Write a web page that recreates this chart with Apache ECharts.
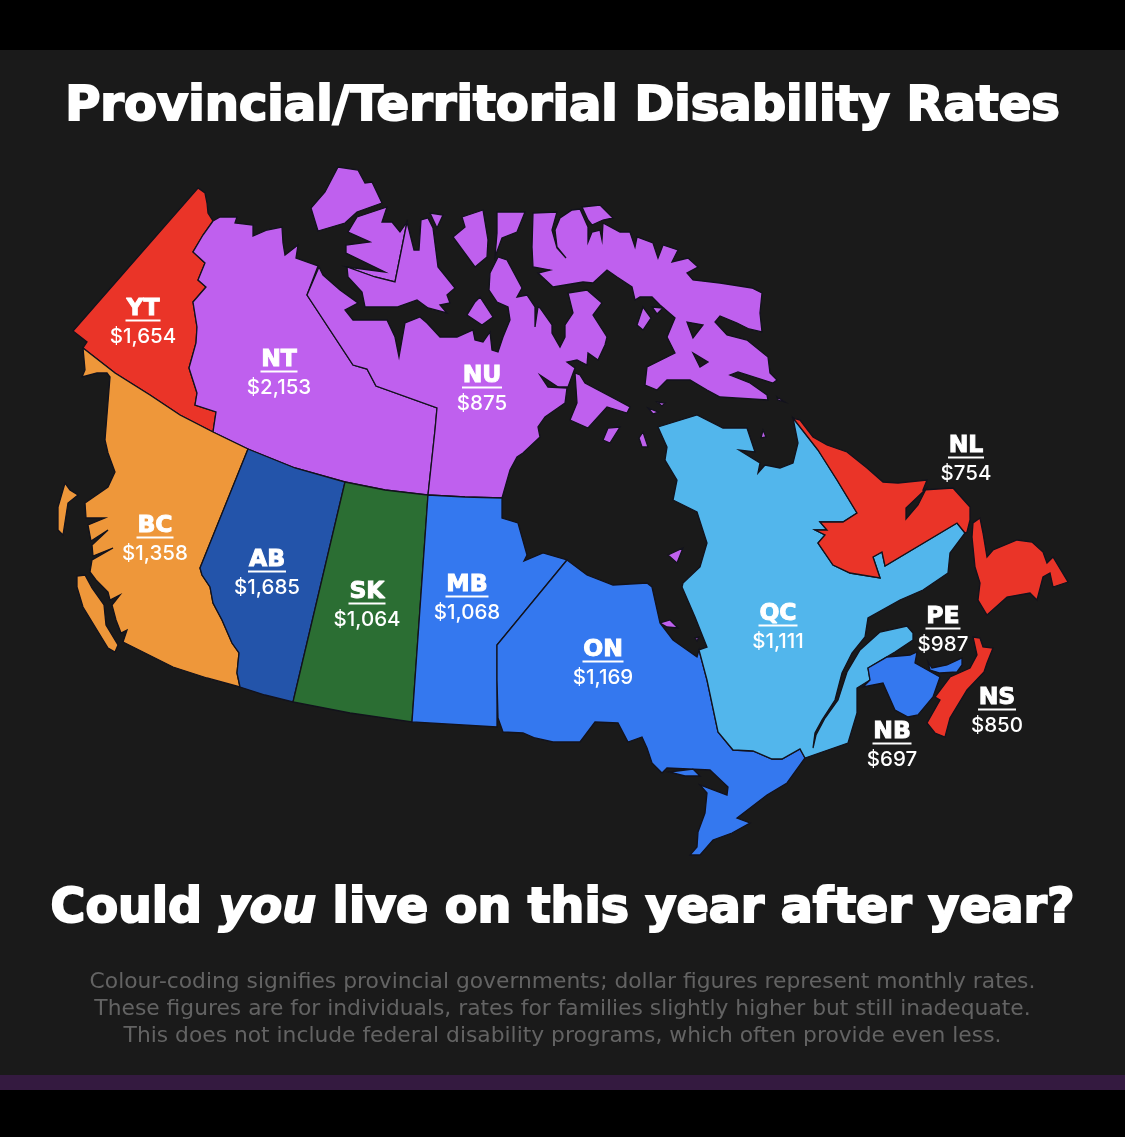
<!DOCTYPE html>
<html>
<head>
<meta charset="utf-8">
<style>html,body{margin:0;padding:0;background:#1a1a1a}#chart{width:1125px;height:1137px}</style>
<script src="https://cdn.jsdelivr.net/npm/echarts@6/dist/echarts.min.js"></script>
</head>
<body>
<div id="chart"></div>
<script>
var provinces = ['YT', 'NT', 'NU', 'BC', 'AB', 'SK', 'MB', 'ON', 'QC', 'NL', 'PE', 'NS', 'NB'];
var rates = [1654, 2153, 875, 1358, 1685, 1064, 1068, 1169, 1111, 754, 987, 850, 697];
var fills = ['#ea3428', '#bf60ee', '#bf60ee', '#ee973a', '#2354aa', '#2b6e33', '#3478ef', '#3478ef', '#52b6ec', '#ea3428', '#3478ef', '#ea3428', '#3478ef'];
var footnotes = [
  'Colour-coding signifies provincial governments; dollar figures represent monthly rates.',
  'These figures are for individuals, rates for families slightly higher but still inadequate.',
  'This does not include federal disability programs, which often provide even less.'
];

// label anchors, picture coordinates
var labelAt = {
  YT: [143, 325], NT: [279, 376], NU: [482, 392], BC: [155, 542], AB: [267, 576], SK: [367, 608], MB: [467, 601],
  ON: [603, 666], QC: [778, 630], NL: [966, 462], PE: [943, 633], NS: [997, 714], NB: [892, 748]
};

// outlines: each province is a list of polygons, a polygon is a list of rings
var outlines = {
  YT: [[[[198,188],[205,193],[207,203],[208,213],[213,221],[203,235],[193,252],[205,263],[198,280],[206,287],[193,302],[197,327],[196,343],[189,368],[197,393],[195,405],[216,412],[213,432],[180,415],[150,395],[115,373],[83,348],[87,342],[73,331]]]],
  NT: [
    [[[213,221],[220,217],[237,217],[235,223],[253,225],[253,236],[267,230],[282,227],[283,243],[285,255],[298,245],[296,258],[318,266],[319,267],[307,295],[353,365],[367,369],[376,386],[437,408],[435,430],[428,495],[385,490],[345,482],[295,468],[248,449],[213,432],[216,412],[195,405],[197,393],[189,368],[196,343],[197,327],[193,302],[206,287],[198,280],[205,263],[193,252],[203,235]]],
    [[[338,167],[358,170],[365,183],[372,182],[382,203],[357,212],[345,223],[318,231],[311,208],[325,192]]],
    [[[357,217],[387,207],[382,222],[392,222],[400,232],[407,222],[395,282],[375,277],[347,267],[385,272],[346,253],[346,245],[370,242],[348,232]]]
  ],
  NU: [
    [[[319,267],[323,275],[340,290],[358,303],[345,310],[353,320],[373,320],[387,320],[395,337],[399,357],[402,340],[405,323],[420,317],[427,323],[440,337],[457,337],[473,330],[475,340],[483,342],[490,332],[492,350],[498,352],[503,337],[510,320],[508,307],[497,302],[489,290],[490,273],[498,257],[507,260],[522,288],[517,297],[527,295],[535,307],[535,327],[538,307],[540,308],[552,325],[552,333],[560,347],[565,337],[565,325],[573,313],[569,297],[568,293],[587,290],[602,303],[593,315],[607,337],[605,345],[598,360],[588,353],[587,365],[577,360],[567,362],[575,368],[568,387],[558,387],[540,375],[548,387],[567,388],[565,403],[545,417],[538,427],[540,437],[523,453],[517,457],[510,470],[502,498],[465,497],[428,495],[435,430],[437,408],[376,386],[367,369],[353,365],[307,295]]],
    [[[407,222],[414,250],[419,250],[421,220],[428,218],[433,228],[438,267],[455,288],[447,295],[450,303],[440,305],[447,313],[428,308],[417,300],[397,307],[365,307],[362,292],[348,277],[347,267],[375,277],[395,282]]],
    [[[533,213],[557,212],[552,230],[557,248],[566,258],[557,247],[555,230],[560,218],[572,210],[580,209],[588,227],[588,242],[592,232],[600,230],[602,240],[603,223],[620,232],[630,232],[635,247],[637,237],[653,243],[658,258],[663,245],[678,250],[672,262],[688,258],[698,267],[687,273],[693,280],[720,283],[733,285],[752,288],[762,293],[760,313],[762,332],[749,329],[737,323],[720,316],[715,322],[727,335],[747,340],[768,357],[770,373],[777,380],[773,383],[738,372],[730,375],[750,383],[767,395],[768,400],[720,397],[707,390],[690,380],[667,380],[657,390],[645,385],[647,367],[675,353],[667,337],[675,318],[660,305],[652,297],[640,297],[635,300],[632,287],[617,277],[607,270],[593,283],[583,282],[553,287],[538,273],[550,270],[533,267],[532,247]],
      [[687,322],[693,338],[703,325]],
      [[693,353],[700,367],[708,362]]],
    [[[582,207],[600,205],[613,218],[603,220],[592,225],[588,220]]],
    [[[430,213],[443,215],[437,228]]],
    [[[462,217],[483,210],[488,240],[487,257],[475,267],[453,237],[465,227]]],
    [[[497,212],[525,212],[517,232],[502,238],[495,257],[497,233]]],
    [[[480,297],[493,317],[482,325],[467,315],[475,302]]],
    [[[643,307],[651,318],[643,330],[637,325]]],
    [[[652,307],[663,308],[657,314]]],
    [[[777,397],[785,402],[778,400]]],
    [[[575,373],[580,375],[585,383],[617,400],[630,407],[627,413],[607,407],[588,428],[570,420],[577,403]]],
    [[[620,427],[610,443],[603,440],[608,428]]],
    [[[643,432],[648,447],[642,447],[639,438]]],
    [[[648,408],[658,412],[653,414]]],
    [[[657,402],[665,403],[662,406]]],
    [[[763,430],[766,437],[761,438]]],
    [[[660,623],[670,620],[678,628],[667,627]]],
    [[[668,555],[683,548],[677,563]]],
    [[[695,638],[699,637],[697,641]]]
  ],
  BC: [
    [[[83,348],[115,373],[150,395],[180,415],[213,432],[248,449],[200,568],[202,575],[210,587],[213,603],[222,620],[232,643],[239,653],[237,673],[240,687],[207,678],[173,667],[125,643],[123,642],[127,630],[121,633],[116,620],[112,605],[120,595],[110,600],[108,592],[96,580],[90,572],[92,560],[113,548],[93,556],[92,545],[108,530],[91,541],[88,525],[105,518],[86,518],[85,503],[108,487],[115,472],[108,453],[105,440],[110,377],[107,373],[97,373],[82,377],[85,370]]],
    [[[77,576],[85,575],[92,588],[104,605],[106,625],[118,645],[115,652],[108,648],[97,630],[83,607],[77,587]]],
    [[[65,483],[70,490],[78,495],[68,503],[63,535],[58,530],[58,507]]]
  ],
  AB: [[[[248,449],[295,468],[345,482],[293,702],[265,695],[240,687],[237,673],[239,653],[232,643],[222,620],[213,603],[210,587],[202,575],[200,568]]]],
  SK: [[[[345,482],[385,490],[428,495],[412,722],[350,713],[293,702]]]],
  MB: [[[[428,495],[465,497],[502,498],[502,518],[518,523],[527,555],[524,561],[543,553],[567,560],[497,645],[497,680],[497,727],[412,722]]]],
  ON: [
    [[[567,560],[587,575],[613,585],[647,583],[652,587],[660,623],[673,640],[697,657],[699,650],[707,680],[718,732],[733,750],[753,751],[772,759],[782,759],[800,749],[805,758],[787,783],[767,795],[737,818],[750,823],[732,833],[713,840],[700,855],[690,855],[697,847],[698,832],[705,813],[707,793],[700,785],[727,795],[728,787],[710,770],[667,768],[662,773],[652,763],[647,748],[642,737],[628,742],[618,723],[595,722],[580,742],[553,742],[535,738],[523,733],[503,732],[498,718],[497,680],[497,645]]],
    [[[669,772],[693,769],[700,776],[685,776]]]
  ],
  QC: [[[[658,427],[697,415],[723,428],[747,428],[755,452],[739,450],[760,463],[758,473],[765,465],[780,468],[793,463],[798,443],[793,418],[818,450],[837,480],[857,513],[843,522],[820,522],[827,530],[815,530],[825,535],[818,543],[833,565],[850,573],[880,578],[873,557],[882,552],[885,566],[957,523],[965,533],[950,553],[948,573],[923,590],[900,600],[868,618],[865,637],[852,653],[842,673],[835,700],[822,720],[815,733],[813,748],[816,735],[825,718],[838,700],[847,672],[860,650],[880,632],[907,626],[913,633],[913,640],[895,652],[868,668],[870,680],[857,688],[857,713],[848,743],[805,758],[800,749],[782,759],[772,759],[753,751],[733,750],[718,732],[707,680],[699,650],[707,647],[695,617],[682,587],[683,583],[700,567],[707,543],[697,512],[673,500],[677,480],[665,460],[667,447]]]],
  NL: [
    [[[793,418],[800,420],[813,437],[827,445],[847,452],[867,468],[883,482],[898,483],[927,480],[923,490],[953,488],[970,507],[970,520],[967,532],[965,533],[957,523],[885,566],[882,552],[873,557],[880,578],[850,573],[833,565],[818,543],[825,535],[815,530],[827,530],[820,522],[843,522],[857,513],[837,480],[818,450]],
      [[926,489],[906,508],[906,519],[918,505]]],
    [[[973,523],[980,518],[983,533],[987,557],[993,550],[1017,540],[1032,542],[1043,552],[1047,563],[1053,557],[1068,582],[1053,587],[1050,573],[1043,577],[1037,600],[1030,593],[1007,597],[987,615],[978,600],[980,583],[975,567],[972,537]]]
  ],
  PE: [[[[928,662],[932,668],[947,665],[962,658],[962,665],[957,672],[940,673],[930,670]]]],
  NS: [[[[973,637],[980,638],[983,647],[993,648],[987,663],[984,672],[967,690],[950,718],[945,737],[935,733],[927,723],[940,700],[935,697],[950,677],[970,668],[977,655]]]],
  NB: [[[[863,687],[870,680],[868,668],[887,657],[910,655],[917,652],[915,663],[940,677],[933,697],[918,715],[908,717],[895,710],[883,683]]]]
};

var features = provinces.map(function (name) {
  return {
    type: 'Feature',
    properties: { name: name, cp: labelAt[name] },
    geometry: { type: 'MultiPolygon', coordinates: outlines[name] }
  };
});
echarts.registerMap('canada', { type: 'FeatureCollection', features: features });

// map box = bounding box of the outlines, so picture coordinates come out 1:1
var xs = [], ys = [];
provinces.forEach(function (name) {
  outlines[name].forEach(function (poly) {
    poly[0].forEach(function (p) { xs.push(p[0]); ys.push(p[1]); });
  });
});
var minX = Math.min.apply(null, xs), maxX = Math.max.apply(null, xs);
var minY = Math.min.apply(null, ys), maxY = Math.max.apply(null, ys);

var headFont = '"DejaVu Sans"';
var measure = document.createElement('canvas').getContext('2d');
measure.font = 'bold 23.5px ' + headFont;

var rich = {
  n: { fontFamily: headFont, fontWeight: 'bold', fontSize: 23.5, color: '#fff', lineHeight: 21, textBorderColor: '#fff', textBorderWidth: 1 },
  v: { fontFamily: 'Inter', fontWeight: 500, fontSize: 20.5, color: '#fff', lineHeight: 30 }
};
provinces.forEach(function (name) {
  rich['u' + name] = { width: Math.ceil(measure.measureText(name).width) + 1, height: 2, lineHeight: 3, backgroundColor: '#fff' };
});

var chart = echarts.init(document.getElementById('chart'), null, { renderer: 'canvas' });
chart.setOption({
  backgroundColor: '#1a1a1a',
  animation: false,
  graphic: [
    { type: 'rect', silent: true, shape: { x: 0, y: 0, width: 1125, height: 50 }, style: { fill: '#000' } },
    { type: 'rect', silent: true, shape: { x: 0, y: 1075, width: 1125, height: 15 }, style: { fill: '#341a40' } },
    { type: 'rect', silent: true, shape: { x: 0, y: 1090, width: 1125, height: 47 }, style: { fill: '#000' } }
  ],
  title: [
    { text: 'Provincial/Territorial Disability Rates', left: 'center', top: 79, textStyle: { color: '#fff', fontFamily: headFont, fontWeight: 'bold', fontSize: 48, textBorderColor: '#fff', textBorderWidth: 2 } },
    {
      text: 'Could {i|you} live on this year after year?', left: 'center', top: 881,
      textStyle: {
        color: '#fff', fontFamily: headFont, fontWeight: 'bold', fontSize: 47.5, textBorderColor: '#fff', textBorderWidth: 2,
        rich: { i: { color: '#fff', fontFamily: headFont, fontStyle: 'italic', fontWeight: 'bold', fontSize: 47.5, textBorderColor: '#fff', textBorderWidth: 2 } }
      }
    }
  ].concat(footnotes.map(function (line, i) {
    return { text: line, left: 'center', top: 966 + i * 27, textStyle: { color: '#636363', fontFamily: headFont, fontWeight: 'normal', fontSize: 21.8 } };
  })),
  series: [{
    type: 'map',
    map: 'canada',
    projection: { project: function (p) { return p; }, unproject: function (p) { return p; } },
    left: minX, top: minY, width: maxX - minX, height: maxY - minY,
    aspectScale: 1,
    roam: false,
    silent: true,
    selectedMode: false,
    itemStyle: { borderColor: '#12121c', borderWidth: 1.3 },
    label: {
      show: true,
      formatter: function (p) {
        return '{n|' + p.name + '}\n{u' + p.name + '|}\n{v|$' + p.value.toLocaleString('en-CA') + '}';
      },
      rich: rich
    },
    data: provinces.map(function (name, i) {
      return { name: name, value: rates[i], itemStyle: { areaColor: fills[i] } };
    })
  }]
});
</script>
</body>
</html>
